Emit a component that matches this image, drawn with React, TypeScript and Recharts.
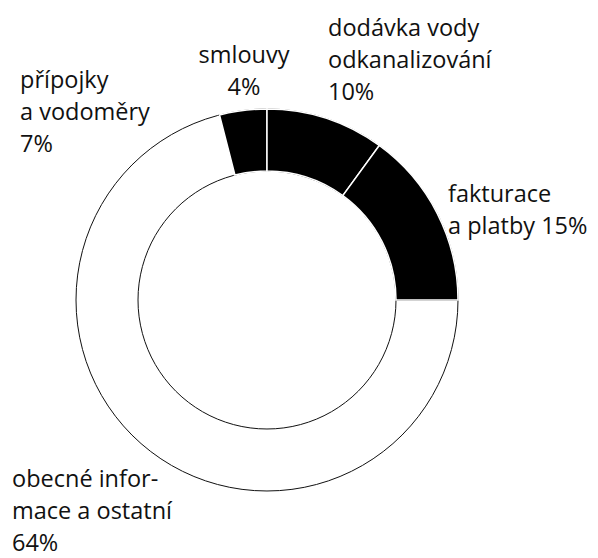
import { Cell, Pie, PieChart } from "recharts"

// categories as printed on the chart, in clockwise order from the top
const categories = [
  "smlouvy",
  "dodávka vody odkanalizování",
  "fakturace a platby",
  "obecné informace a ostatní",
  "přípojky a vodoměry",
]
const shares = [4, 10, 15, 64, 7]
const labelLines = [
  ["smlouvy"],
  ["dodávka vody", "odkanalizování"],
  ["fakturace", "a platby"],
  ["obecné infor-", "mace a ostatní"],
  ["přípojky", "a vodoměry"],
]
const highlighted = [true, true, true, false, false]

const data = categories.map((name, i) => ({ name, value: shares[i] }))
const ring = [{ name: "ring", value: 100 }]

// label placement (layout only)
const labelLayout = [
  { x: 244, y: 63, anchor: "middle", inline: false },
  { x: 328, y: 36, anchor: "start", inline: false },
  { x: 448, y: 202, anchor: "start", inline: true },
  { x: 12, y: 487, anchor: "start", inline: false },
  { x: 20, y: 88, anchor: "start", inline: false },
]
const LINE = 32

const renderLabel = (props: any) => {
  const i = props.index
  const pos = labelLayout[i]
  const lines = [...labelLines[i]]
  const pct = `${shares[i]}%`
  if (pos.inline) lines[lines.length - 1] += " " + pct
  else lines.push(pct)
  return (
    <text
      key={`lbl-${i}`}
      x={pos.x}
      y={pos.y}
      textAnchor={pos.anchor as any}
      fill="#111"
      fontFamily="'Open Sans', sans-serif"
      fontSize={23.5}
      fontWeight={500}
    >
      {lines.map((l, k) => (
        <tspan key={k} x={pos.x} dy={k === 0 ? 0 : LINE}>
          {l}
        </tspan>
      ))}
    </text>
  )
}

export default function App() {
  const start = 90 + (shares[0] / 100) * 360
  return (
    <div style={{ position: "absolute", left: 0, top: 0, background: "#fff" }}>
      <PieChart width={598} height={558}>
        <Pie
          data={ring}
          dataKey="value"
          cx={262}
          cy={295}
          innerRadius={129}
          outerRadius={191}
          startAngle={0}
          endAngle={-360}
          fill="#fff"
          stroke="#111"
          strokeWidth={1}
          isAnimationActive={false}
        />
        <Pie
          data={data}
          dataKey="value"
          cx={262}
          cy={295}
          innerRadius={129}
          outerRadius={191}
          startAngle={start}
          endAngle={start - 360}
          label={renderLabel}
          labelLine={false}
          isAnimationActive={false}
        >
          {data.map((d, i) => (
            <Cell
              key={d.name}
              fill={highlighted[i] ? "#000" : "none"}
              stroke={highlighted[i] ? "#fff" : "none"}
              strokeWidth={1.5}
            />
          ))}
        </Pie>
      </PieChart>
    </div>
  )
}
